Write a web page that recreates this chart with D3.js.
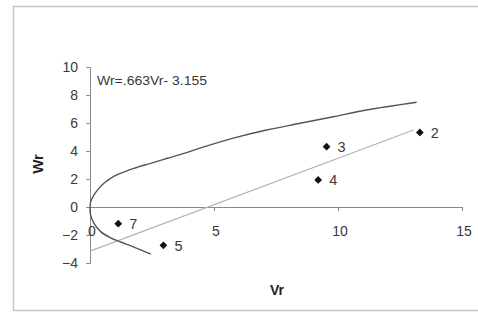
<!DOCTYPE html>
<html>
<head>
<meta charset="utf-8">
<script src="https://cdn.jsdelivr.net/npm/d3@7"></script>
<style>
  body { margin: 0; background: #fff; }
  text { font-family: "Liberation Sans", Arial, sans-serif; }
</style>
</head>
<body>
<script>
// points
const labels = ["2", "3", "4", "7", "5"];
const vr = [13.3, 9.54, 9.2, 1.14, 2.96];
const wr = [5.33, 4.31, 1.93, -1.19, -2.74];

// fitted line Wr = .663Vr - 3.155, drawn from Vr=0 to about point 2
const lineVr = [0, 13.05];
const lineWr = [-3.155, 5.5];

// curve
const curveVr = [2.45, 1.77, 1.24, 0.83, 0.43, 0.16, 0.02, 0, 0.03, 0.16, 0.36, 0.56, 0.83, 1.1, 1.77, 2.45, 3.12, 3.79, 4.46, 5.78, 7.12, 8.47, 9.81, 11.16, 13.17];
const curveWr = [-3.36, -2.86, -2.5, -2.2, -1.76, -1.17, -0.55, -0.1, 0.38, 0.86, 1.33, 1.69, 2.05, 2.31, 2.76, 3.12, 3.48, 3.83, 4.22, 4.92, 5.5, 5.98, 6.45, 6.93, 7.48];

const xTicks = [0, 5, 10, 15];
const yTicks = [-4, -2, 0, 2, 4, 6, 8, 10];

const W = 478, H = 312;
const svg = d3.select("body").append("svg").attr("width", W).attr("height", H);

// outer frame
svg.append("rect")
  .attr("x", 13.5).attr("y", 6.5)
  .attr("width", 470).attr("height", 304)
  .attr("fill", "none").attr("stroke", "#c8c8c8").attr("stroke-width", 1.5);

const x = d3.scaleLinear().domain([0, 15]).range([90, 462]);
const y = d3.scaleLinear().domain([-4, 10]).range([263, 67]);

const axisColor = "#8a8a8a", textColor = "#3a3a3a";

// y axis
const gy = svg.append("g")
  .attr("transform", "translate(" + x(0) + ",0)")
  .call(d3.axisLeft(y).tickValues(yTicks).tickSize(4).tickPadding(8));
// x axis at Wr = 0
const gx = svg.append("g")
  .attr("transform", "translate(0," + y(0) + ")")
  .call(d3.axisBottom(x).tickValues(xTicks).tickSize(4).tickPadding(15));

[gx, gy].forEach(g => {
  g.select(".domain").attr("stroke", axisColor);
  g.selectAll(".tick line").attr("stroke", axisColor);
  g.selectAll(".tick text")
    .attr("fill", textColor)
    .style("font-size", "14px")
    .style("font-family", "'Liberation Sans', Arial, sans-serif");
});
gx.selectAll(".tick text").attr("dx", "0.1em");

// regression line
svg.append("path")
  .datum(d3.range(lineVr.length))
  .attr("d", d3.line().x(i => x(lineVr[i])).y(i => y(lineWr[i])))
  .attr("fill", "none").attr("stroke", "#b4b4b4").attr("stroke-width", 1.2);

// curve
svg.append("path")
  .datum(d3.range(curveVr.length))
  .attr("d", d3.line().curve(d3.curveCatmullRom).x(i => x(curveVr[i])).y(i => y(curveWr[i])))
  .attr("fill", "none").attr("stroke", "#555").attr("stroke-width", 1.4);

// markers
const pts = svg.append("g").selectAll("g").data(d3.range(vr.length)).join("g")
  .attr("transform", i => "translate(" + x(vr[i]) + "," + y(wr[i]) + ")");
pts.append("path")
  .attr("d", d3.symbol().type(d3.symbolSquare).size(30))
  .attr("transform", "rotate(45)")
  .attr("fill", "#111");
pts.append("text")
  .attr("x", 11).attr("dy", "0.36em")
  .attr("fill", textColor)
  .style("font-size", "14.5px")
  .text(i => labels[i]);

// equation
svg.append("text")
  .attr("x", 97).attr("y", 85)
  .attr("fill", textColor)
  .attr("textLength", 110).attr("lengthAdjust", "spacingAndGlyphs")
  .style("font-size", "12.5px")
  .text("Wr=.663Vr- 3.155");

// axis titles
svg.append("text")
  .attr("x", 277).attr("y", 295)
  .attr("text-anchor", "middle")
  .attr("fill", "#222")
  .style("font-size", "14px").style("font-weight", "bold")
  .text("Vr");
svg.append("text")
  .attr("transform", "translate(43,164) rotate(-90)")
  .attr("text-anchor", "middle")
  .attr("fill", "#222")
  .style("font-size", "15px").style("font-weight", "bold")
  .text("Wr");
</script>
</body>
</html>
